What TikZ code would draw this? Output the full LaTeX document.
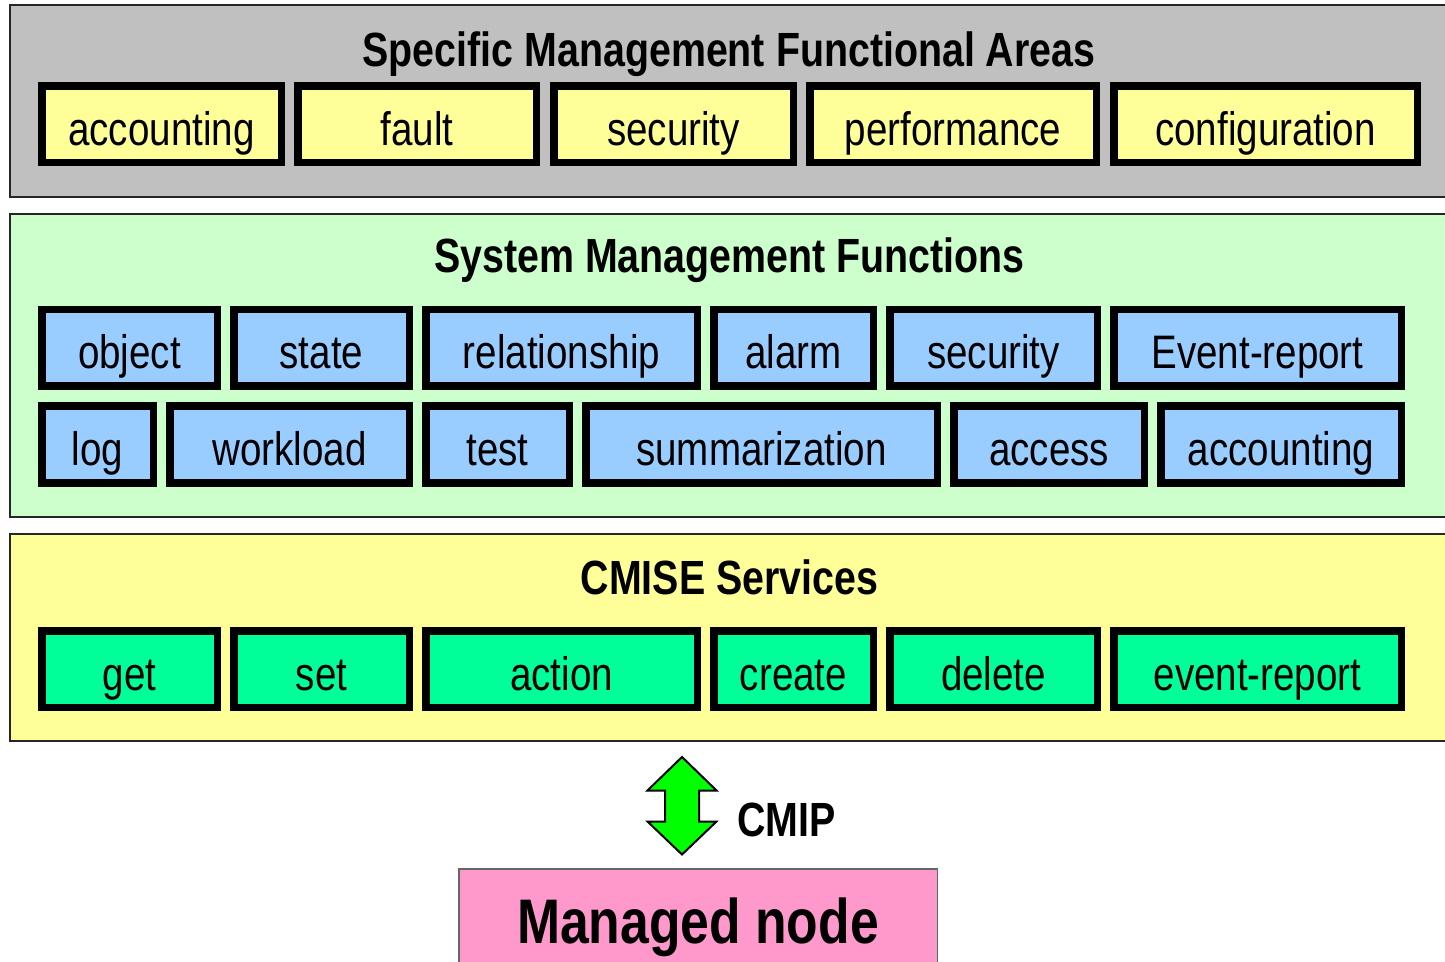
\documentclass[tikz,border=0pt]{standalone}
\usepackage{fontspec}
\setmainfont[FakeStretch=0.82]{Liberation Sans}
\definecolor{areagray}{RGB}{192,192,192}
\definecolor{smfgreen}{RGB}{204,255,204}
\definecolor{cmiseyellow}{RGB}{255,255,153}
\definecolor{smfblue}{RGB}{153,204,255}
\definecolor{svcgreen}{RGB}{0,255,153}
\definecolor{cmipgreen}{RGB}{0,255,0}
\definecolor{nodepink}{RGB}{255,153,204}
\usetikzlibrary{positioning}

\tikzset{
  layer/.style={draw=black!85, line width=1.2pt},
  fnbox/.style={draw=black, line width=3.75pt, inner sep=0pt,
    minimum height=38.25pt, text height=21pt, text depth=0pt,
    font=\fontsize{23.5}{26}\selectfont},
  layertitle/.style={inner sep=0pt, anchor=base,
    font=\fontsize{24}{28}\selectfont\bfseries},
}

\begin{document}
\begin{tikzpicture}[x=0.5pt, y=-0.5pt]
    \useasboundingbox (0,0) rectangle (1445,962);
    \clip (0,0) rectangle (1445,962);

    % Specific management functional areas
    \draw[layer, fill=areagray] (10,5) rectangle (1470,197);
    \node[layertitle] (sma-title) at (729,67) {Specific Management Functional Areas};
    \foreach \nm/\lbl/\xa/\xb in {acct/accounting/38/285, fault/fault/294/540,
        sec/security/550/797, perf/performance/806/1100, conf/configuration/1110/1421} {
      \node[fnbox, fill=cmiseyellow, minimum width={(\xb-\xa-7.5)*0.5pt}]
        (sma-\nm) at ({(\xa+\xb)/2},124.5) {\lbl};
    }

    % System management functions
    \draw[layer, fill=smfgreen] (10,214) rectangle (1470,517);
    \node[layertitle] (smf-title) at (729.5,273) {System Management Functions};
    \foreach \nm/\lbl/\xa/\xb in {obj/object/38/221, state/state/230/413,
        rel/relationship/422/701, alarm/alarm/710/877, sec/security/886/1101,
        evt/Event-report/1110/1405} {
      \node[fnbox, fill=smfblue, minimum width={(\xb-\xa-7.5)*0.5pt}]
        (smf-\nm) at ({(\xa+\xb)/2},348) {\lbl};
    }
    \foreach \nm/\lbl/\xa/\xb in {log/log/38/157, work/workload/166/413,
        test/test/422/573, summ/summarization/582/941, acc/access/950/1148,
        acct/accounting/1157/1405} {
      \node[fnbox, fill=smfblue, minimum width={(\xb-\xa-7.5)*0.5pt}]
        (smf-\nm) at ({(\xa+\xb)/2},444.5) {\lbl};
    }

    % CMISE services
    \draw[layer, fill=cmiseyellow] (10,534) rectangle (1470,741);
    \node[layertitle] (svc-title) at (729.5,594) {CMISE Services};
    \foreach \nm/\lbl/\xa/\xb in {get/get/38/221, set/set/230/413,
        act/action/422/701, new/create/710/877, del/delete/886/1101,
        evt/event-report/1110/1405} {
      \node[fnbox, fill=svcgreen, minimum width={(\xb-\xa-7.5)*0.5pt}]
        (svc-\nm) at ({(\xa+\xb)/2},669) {\lbl};
    }

    % CMIP double arrow
    \draw[fill=cmipgreen, line width=1pt, line join=miter]
      (682,757) -- (716.5,790.5) -- (699,790.5) -- (699,821.5) -- (716.5,821.5)
      -- (682,854.5) -- (647.5,821.5) -- (665,821.5) -- (665,790.5)
      -- (647.5,790.5) -- cycle;
    \node[layertitle, anchor=base west] (cmip) at (737,836) {CMIP};

    % Managed node
    \node[draw=black!60, line width=0.75pt, fill=nodepink, inner sep=0pt,
      minimum width=239.25pt, minimum height=65.5pt,
      text height=8.5pt, text depth=0pt,
      font=\fontsize{31.5}{36}\selectfont\bfseries]
      (managed) at (698,934.5) {Managed node};
\end{tikzpicture}
\end{document}
